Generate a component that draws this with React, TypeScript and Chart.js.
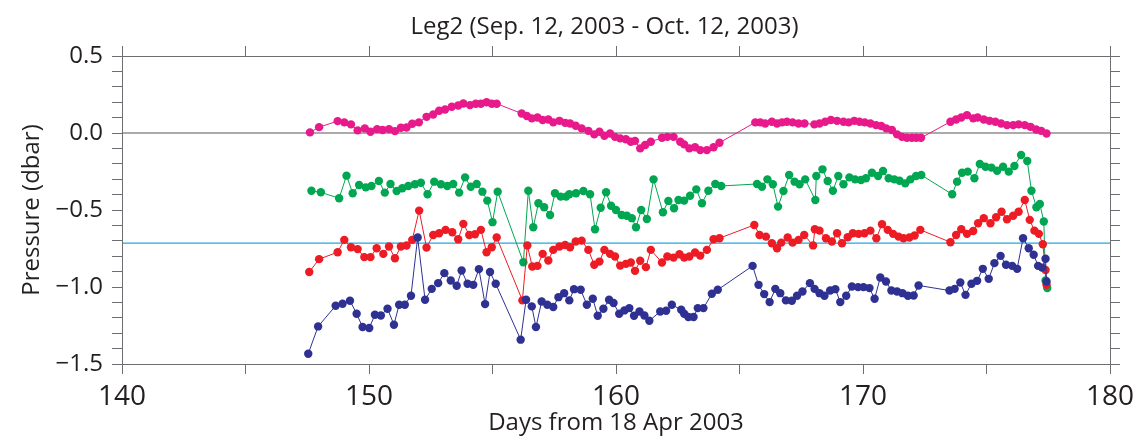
import React, { useEffect, useRef } from "react";
import { Chart, registerables } from "chart.js";

Chart.register(...registerables);

const chartTitle = "Leg2 (Sep. 12, 2003 - Oct. 12, 2003)";
const xAxisTitle = "Days from 18 Apr 2003";
const yAxisTitle = "Pressure (dbar)";

const xMin = 140;
const xMax = 180;
const yMin = -1.5;
const yMax = 0.5;

// horizontal reference levels: zero line and cyan level
const referenceLevels = [0, -0.715];
const referenceColors = ["#58595b", "#1fa9e1"];

const magentaDays = [
  147.61, 147.98, 148.73, 149.0, 149.27, 149.54, 149.83, 150.06, 150.33, 150.55,
  150.81, 151.05, 151.29, 151.52, 151.75, 152.02, 152.33, 152.6, 152.84, 153.08,
  153.35, 153.61, 153.82, 154.09, 154.32, 154.53, 154.76, 154.97, 155.17,
  156.18, 156.39, 156.59, 156.82, 157.03, 157.26, 157.46, 157.71, 157.94,
  158.14, 158.37, 158.61, 158.88, 159.12, 159.33, 159.53, 159.76, 159.96, 160.17,
  160.4, 160.6, 160.77, 160.98, 161.18, 161.41, 161.86, 162.08, 162.33, 162.6,
  162.76, 162.97, 163.2, 163.41, 163.68, 163.95, 164.19,
  165.64, 165.84, 166.04, 166.31, 166.52, 166.72, 166.92, 167.15, 167.39, 167.63,
  168.03, 168.24, 168.47, 168.7, 168.95,
  169.21, 169.42, 169.65, 169.86, 170.07, 170.3, 170.53, 170.74, 170.94, 171.17,
  171.38, 171.58, 171.78, 171.98, 172.16, 172.35,
  173.54, 173.77, 173.98, 174.21, 174.46, 174.64, 174.89, 175.12, 175.36, 175.59,
  175.83, 176.08, 176.3, 176.55, 176.78, 177.01, 177.21, 177.43,
];
const magentaValues = [
  0.004, 0.038, 0.077, 0.069, 0.056, 0.017, 0.03, 0.008, 0.025, 0.019,
  0.025, 0.012, 0.034, 0.036, 0.06, 0.069, 0.105, 0.12, 0.144, 0.153,
  0.17, 0.179, 0.192, 0.181, 0.19, 0.19, 0.2, 0.19, 0.19,
  0.127, 0.11, 0.095, 0.101, 0.084, 0.088, 0.069, 0.079, 0.066,
  0.062, 0.047, 0.03, 0.014, -0.009, 0.008, -0.018, -0.003, -0.025, -0.035,
  -0.041, -0.057, -0.051, -0.1, -0.078, -0.057, -0.031, -0.025, -0.025, -0.057,
  -0.074, -0.1, -0.093, -0.111, -0.111, -0.093, -0.063,
  0.069, 0.069, 0.062, 0.073, 0.062, 0.069, 0.073, 0.069, 0.062, 0.062,
  0.056, 0.062, 0.073, 0.084, 0.079,
  0.073, 0.069, 0.079, 0.073, 0.069, 0.062, 0.051, 0.045, 0.03, 0.019,
  -0.009, -0.025, -0.031, -0.031, -0.031, -0.031,
  0.073, 0.088, 0.101, 0.116, 0.095, 0.101, 0.088, 0.079, 0.073, 0.062,
  0.051, 0.051, 0.056, 0.051, 0.04, 0.023, 0.014, -0.003,
];

const greenDays = [
  147.67, 148.05, 148.79, 149.09, 149.34, 149.6, 149.87, 150.1, 150.4, 150.64,
  150.87, 151.12, 151.35, 151.59, 151.86, 152.1, 152.37, 152.64, 152.91, 153.17,
  153.41, 153.65, 153.89, 154.12, 154.36, 154.59, 154.79, 155.0, 155.21, 156.25,
  156.45, 156.65, 156.86, 157.09, 157.33, 157.53, 157.76, 157.98,
  158.11, 158.38, 158.68, 158.95, 159.15, 159.38, 159.6, 159.8, 160.0, 160.23,
  160.44, 160.64, 160.81, 161.02, 161.25, 161.52, 161.9, 162.12, 162.35, 162.53,
  162.76, 163.0, 163.25, 163.48, 163.74, 164.02, 164.26,
  165.71, 165.91, 166.13, 166.35, 166.56, 166.78, 167.01, 167.23, 167.43, 167.66,
  168.07, 168.11, 168.36, 168.57, 168.78, 169.0, 169.21, 169.45, 169.68, 169.92,
  170.12, 170.36, 170.61, 170.81, 171.04, 171.27, 171.48, 171.71, 171.92, 172.15,
  172.36,
  173.61, 173.81, 174.01, 174.24, 174.51, 174.73, 174.96, 175.2, 175.43, 175.67,
  175.9, 176.13, 176.4, 176.65, 176.82, 177.02, 177.16, 177.32, 177.39, 177.46,
];
const greenValues = [
  -0.375, -0.385, -0.424, -0.277, -0.391, -0.338, -0.353, -0.344, -0.312, -0.387,
  -0.331, -0.377, -0.359, -0.344, -0.333, -0.323, -0.398, -0.316, -0.333, -0.344,
  -0.331, -0.387, -0.288, -0.349, -0.331, -0.381, -0.439, -0.579, -0.381, -0.839,
  -0.375, -0.612, -0.456, -0.482, -0.532, -0.391, -0.413, -0.413,
  -0.398, -0.391, -0.377, -0.398, -0.625, -0.485, -0.385, -0.472, -0.5, -0.532,
  -0.537, -0.553, -0.612, -0.5, -0.558, -0.301, -0.515, -0.441, -0.489, -0.435,
  -0.439, -0.407, -0.366, -0.456, -0.375, -0.331, -0.344,
  -0.331, -0.349, -0.301, -0.333, -0.478, -0.377, -0.273, -0.316, -0.333, -0.301,
  -0.435, -0.279, -0.236, -0.312, -0.375, -0.279, -0.333, -0.288, -0.301, -0.305,
  -0.294, -0.258, -0.279, -0.247, -0.294, -0.301, -0.31, -0.327, -0.301, -0.279,
  -0.273,
  -0.398, -0.316, -0.258, -0.251, -0.294, -0.201, -0.219, -0.225, -0.245, -0.219,
  -0.251, -0.214, -0.143, -0.182, -0.375, -0.482, -0.461, -0.575, -0.958, -1.007,
];

const redDays = [
  147.58, 147.98, 148.73, 149.0, 149.27, 149.54, 149.81, 150.06, 150.31, 150.58,
  150.81, 151.05, 151.29, 151.52, 151.75, 152.03, 152.33, 152.6, 152.84, 153.1,
  153.37, 153.61, 153.82, 154.06, 154.29, 154.53, 154.76, 154.97, 155.17, 156.21,
  156.41, 156.61, 156.82, 157.03, 157.26, 157.46, 157.71, 157.94,
  158.14, 158.37, 158.61, 158.88, 159.12, 159.33, 159.53, 159.76, 159.96, 160.17,
  160.4, 160.6, 160.77, 160.98, 161.21, 161.41, 161.86, 162.08, 162.33, 162.57,
  162.76, 162.97, 163.2, 163.41, 163.68, 163.95, 164.19,
  165.6, 165.81, 166.07, 166.31, 166.52, 166.69, 166.95, 167.15, 167.39, 167.62,
  167.98, 168.05, 168.24, 168.5, 168.74, 168.95, 169.15, 169.38, 169.59, 169.82,
  170.06, 170.3, 170.54, 170.77, 171.0, 171.22, 171.44, 171.64, 171.88, 172.09,
  172.32,
  173.54, 173.77, 173.98, 174.21, 174.46, 174.66, 174.89, 175.16, 175.39, 175.61,
  175.83, 176.08, 176.3, 176.55, 176.75, 176.94, 177.12, 177.28, 177.39, 177.43,
];
const redValues = [
  -0.903, -0.819, -0.774, -0.694, -0.742, -0.754, -0.806, -0.806, -0.748, -0.785,
  -0.737, -0.813, -0.737, -0.731, -0.694, -0.504, -0.744, -0.662, -0.651, -0.629,
  -0.644, -0.69, -0.59, -0.662, -0.657, -0.629, -0.774, -0.742, -0.679, -1.087,
  -0.731, -0.867, -0.863, -0.785, -0.828, -0.759, -0.737, -0.727,
  -0.742, -0.705, -0.699, -0.759, -0.856, -0.835, -0.759, -0.785, -0.802, -0.861,
  -0.85, -0.841, -0.895, -0.83, -0.871, -0.759, -0.841, -0.802, -0.809, -0.787,
  -0.809, -0.802, -0.776, -0.796, -0.759, -0.69, -0.683,
  -0.597, -0.662, -0.673, -0.716, -0.748, -0.712, -0.679, -0.712, -0.694, -0.662,
  -0.73, -0.625, -0.634, -0.683, -0.705, -0.651, -0.716, -0.677, -0.651, -0.655,
  -0.651, -0.634, -0.683, -0.592, -0.629, -0.655, -0.673, -0.683, -0.679, -0.666,
  -0.629,
  -0.709, -0.662, -0.625, -0.655, -0.636, -0.586, -0.553, -0.586, -0.547, -0.511,
  -0.56, -0.537, -0.511, -0.435, -0.564, -0.634, -0.655, -0.722, -0.889, -0.986,
];

const blueDays = [
  147.54, 147.94, 148.65, 148.93, 149.23, 149.5, 149.74, 150.01, 150.24, 150.48,
  150.75, 151.01, 151.22, 151.45, 151.7, 151.97, 152.27, 152.54, 152.8, 153.05,
  153.31, 153.55, 153.75, 153.99, 154.22, 154.45, 154.7, 154.9, 155.13, 156.14,
  156.36, 156.59, 156.76, 156.99, 157.22, 157.46, 157.67, 157.9, 158.11,
  158.3, 158.57, 158.82, 159.06, 159.26, 159.49, 159.72, 159.9, 160.13, 160.34,
  160.54, 160.73, 160.95, 161.15, 161.35, 161.79, 162.03, 162.26, 162.64, 162.76,
  162.93, 163.14, 163.31, 163.54, 163.88, 164.12,
  165.53, 165.77, 166.0, 166.22, 166.45, 166.65, 166.88, 167.12, 167.33, 167.55,
  167.85, 168.04, 168.24, 168.44, 168.67, 168.88, 169.08, 169.32, 169.55, 169.8,
  170.02, 170.26, 170.47, 170.7, 170.93, 171.15, 171.38, 171.6, 171.82, 172.05,
  172.25,
  173.5, 173.71, 173.94, 174.15, 174.39, 174.62, 174.85, 175.09, 175.32, 175.57,
  175.79, 176.04, 176.24, 176.48, 176.71, 176.91, 177.09, 177.25, 177.39, 177.43,
];
const blueValues = [
  -1.433, -1.256, -1.122, -1.109, -1.089, -1.174, -1.26, -1.266, -1.18, -1.185,
  -1.141, -1.245, -1.115, -1.115, -1.057, -0.679, -1.083, -1.012, -0.975, -0.91,
  -0.958, -0.992, -0.893, -0.979, -0.986, -0.884, -1.111, -0.903, -0.979, -1.342,
  -1.083, -1.126, -1.26, -1.094, -1.115, -1.13, -1.066, -1.04, -1.087,
  -1.014, -1.018, -1.115, -1.076, -1.187, -1.141, -1.083, -1.104, -1.174, -1.152,
  -1.137, -1.187, -1.159, -1.185, -1.219, -1.159, -1.154, -1.115, -1.148, -1.174,
  -1.195, -1.195, -1.137, -1.137, -1.044, -1.018,
  -0.863, -0.986, -1.046, -1.098, -1.012, -1.04, -1.087, -1.089, -1.057, -1.029,
  -0.975, -1.012, -1.04, -1.057, -1.023, -1.014, -1.098, -1.057, -0.997, -1.001,
  -1.001, -1.007, -1.076, -0.938, -0.964, -1.023, -1.029, -1.04, -1.057, -1.055,
  -0.99,
  -1.023, -1.012, -0.971, -1.051, -0.979, -0.96, -0.882, -0.947, -0.845, -0.798,
  -0.856, -0.863, -0.882, -0.683, -0.748, -0.791, -0.863, -0.874, -0.817, -0.964,
];

const seriesColors = ["#e8198b", "#00a651", "#ed1c24", "#2e3192"];

const FONT = "'Open Sans', 'Noto Sans', sans-serif";
const TEXT = "#231f20";
const AXIS = "#6d6e71";

const W = 1143;
const H = 441;
const TITLE_PAD_TOP = 13;
const TITLE_SIZE = 24;
const TITLE_SHIFT = 33;

const toPoints = (xs: number[], ys: number[]) => xs.map((x, i) => ({ x, y: ys[i] }));

const fmtY = (v: number) => {
  const s = Math.abs(v).toFixed(1);
  return v < -1e-9 ? "\u2212" + s : s;
};

const framePlugin = {
  id: "frame",
  afterLayout(chart: any) {
    const tb = chart.titleBlock;
    if (tb) {
      tb.left += TITLE_SHIFT;
      tb.right += TITLE_SHIFT;
    }
  },
  afterDraw(chart: any) {
    const { ctx, chartArea } = chart;
    const { left, right, top, bottom } = chartArea;
    const ext = 10;
    ctx.save();
    ctx.strokeStyle = AXIS;
    ctx.lineWidth = 1;
    ctx.beginPath();
    ctx.moveTo(left - ext, top + 0.5);
    ctx.lineTo(right + ext, top + 0.5);
    ctx.moveTo(left - ext, bottom + 0.5);
    ctx.lineTo(right + ext, bottom + 0.5);
    ctx.moveTo(left + 0.5, top - ext);
    ctx.lineTo(left + 0.5, bottom + ext);
    ctx.moveTo(right + 0.5, top - ext);
    ctx.lineTo(right + 0.5, bottom + ext);
    ctx.stroke();
    ctx.restore();
  },
};

export default function App() {
  const ref = useRef<HTMLCanvasElement | null>(null);

  useEffect(() => {
    document.body.style.margin = "0";
    const canvas = ref.current;
    if (!canvas) return;

    const series = [
      { label: "magenta", xs: magentaDays, ys: magentaValues },
      { label: "green", xs: greenDays, ys: greenValues },
      { label: "red", xs: redDays, ys: redValues },
      { label: "blue", xs: blueDays, ys: blueValues },
    ];

    const datasets: any[] = series.map((s, i) => ({
      label: s.label,
      data: toPoints(s.xs, s.ys),
      borderColor: seriesColors[i],
      backgroundColor: seriesColors[i],
      pointBackgroundColor: seriesColors[i],
      pointBorderWidth: 0,
      pointRadius: 4.2,
      borderWidth: 1,
      tension: 0,
      order: 4 - i,
    }));

    referenceLevels.forEach((lvl, i) => {
      datasets.push({
        label: "ref" + i,
        data: [
          { x: xMin, y: lvl },
          { x: xMax, y: lvl },
        ],
        borderColor: referenceColors[i],
        borderWidth: 1.2,
        pointRadius: 0,
        order: 20,
      });
    });

    const gridCommon = {
      drawOnChartArea: false,
      drawTicks: true,
      tickLength: 10,
      color: AXIS,
      lineWidth: 1,
    };

    const titleBlockHeight = TITLE_SIZE * 1.2 + TITLE_PAD_TOP;

    const chart = new Chart(canvas, {
      type: "line",
      data: { datasets },
      plugins: [framePlugin],
      options: {
        animation: false,
        responsive: false,
        maintainAspectRatio: false,
        layout: { padding: 0 },
        plugins: {
          legend: { display: false },
          tooltip: { enabled: false },
          title: {
            display: true,
            text: chartTitle,
            color: TEXT,
            font: { family: FONT, size: TITLE_SIZE, weight: "normal", lineHeight: 1.2 },
            padding: { top: TITLE_PAD_TOP, bottom: 0 },
          },
        },
        scales: {
          x: {
            type: "linear",
            position: "bottom",
            min: xMin,
            max: xMax,
            border: { display: false },
            grid: gridCommon,
            ticks: {
              stepSize: 5,
              padding: 6,
              color: TEXT,
              font: { family: FONT, size: 28 },
              maxRotation: 0,
              autoSkip: false,
              callback: (v: any) => (Math.abs(v % 10) < 1e-9 ? String(v) : ""),
            },
            title: {
              display: true,
              text: xAxisTitle,
              color: TEXT,
              font: { family: FONT, size: 24, lineHeight: 1.2 },
              padding: { top: 0, bottom: 3 },
            },
            afterFit: (s: any) => {
              s.height = 77;
            },
          },
          xTop: {
            type: "linear",
            position: "top",
            min: xMin,
            max: xMax,
            border: { display: false },
            grid: gridCommon,
            ticks: {
              stepSize: 5,
              autoSkip: false,
              maxRotation: 0,
              callback: () => "",
            },
            afterFit: (s: any) => {
              s.height = 56 - titleBlockHeight;
            },
          },
          y: {
            type: "linear",
            position: "left",
            min: yMin,
            max: yMax,
            border: { display: false },
            grid: gridCommon,
            ticks: {
              stepSize: 0.1,
              padding: 9,
              color: TEXT,
              autoSkip: false,
              font: { family: FONT, size: 24 },
              callback: (v: any) => {
                const n = Number(v);
                return Math.abs(n * 2 - Math.round(n * 2)) < 1e-6 ? fmtY(n) : "";
              },
            },
            title: {
              display: true,
              text: yAxisTitle,
              color: TEXT,
              font: { family: FONT, size: 24, lineHeight: 1.2 },
              padding: { top: 18, bottom: 0 },
            },
            afterFit: (s: any) => {
              s.width = 122;
            },
          },
          yRight: {
            type: "linear",
            position: "right",
            min: yMin,
            max: yMax,
            border: { display: false },
            grid: gridCommon,
            ticks: {
              stepSize: 0.1,
              autoSkip: false,
              callback: () => "",
            },
            afterFit: (s: any) => {
              s.width = W - 1110;
            },
          },
        },
      } as any,
    });

    return () => chart.destroy();
  }, []);

  return (
    <div style={{ width: W, height: H, position: "relative", background: "#fff" }}>
      <canvas ref={ref} width={W} height={H} style={{ width: W, height: H, display: "block" }} />
    </div>
  );
}
